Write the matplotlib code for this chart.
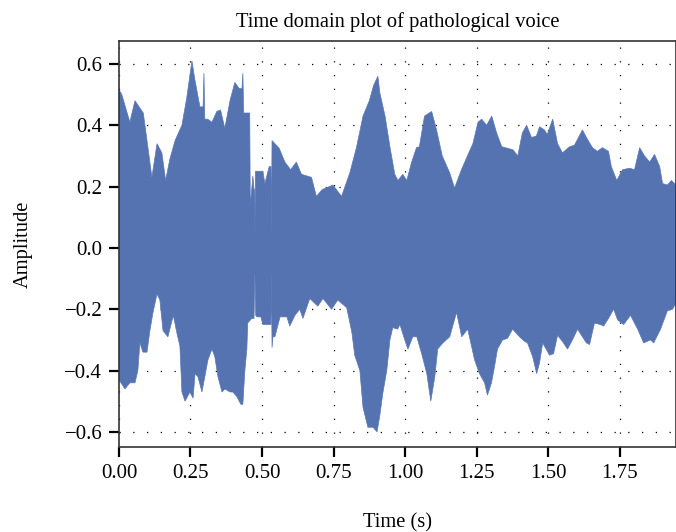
import numpy as np
import matplotlib.pyplot as plt

# upper envelope of the waveform (time in s, amplitude)
t_upper = [0.000, 0.010, 0.038, 0.056, 0.085, 0.098, 0.115, 0.133, 0.150, 0.163,
           0.178, 0.196, 0.220, 0.237, 0.255, 0.265, 0.283, 0.294, 0.297, 0.300,
           0.310, 0.325, 0.342, 0.355, 0.370, 0.388, 0.405, 0.420, 0.430, 0.433,
           0.436, 0.447, 0.457, 0.459, 0.468, 0.472, 0.474, 0.475, 0.477, 0.503,
           0.510, 0.525, 0.531, 0.533, 0.535, 0.545, 0.560, 0.580, 0.600, 0.620,
           0.638, 0.673, 0.690, 0.710, 0.748, 0.778, 0.807, 0.830, 0.853, 0.875,
           0.890, 0.905, 0.912, 0.930, 0.947, 0.964, 0.975, 0.992, 1.006, 1.023,
           1.040, 1.050, 1.068, 1.093, 1.110, 1.130, 1.156, 1.173, 1.197, 1.218,
           1.237, 1.255, 1.268, 1.285, 1.303, 1.320, 1.338, 1.377, 1.394, 1.410,
           1.425, 1.442, 1.459, 1.470, 1.487, 1.497, 1.516, 1.533, 1.550, 1.575,
           1.592, 1.620, 1.637, 1.655, 1.672, 1.690, 1.711, 1.721, 1.740, 1.760,
           1.785, 1.802, 1.820, 1.837, 1.855, 1.872, 1.890, 1.900, 1.917, 1.931,
           1.947]
upper = [0.516, 0.500, 0.410, 0.480, 0.440, 0.350, 0.230, 0.340, 0.310, 0.220,
         0.290, 0.350, 0.400, 0.490, 0.610, 0.550, 0.460, 0.460, 0.570, 0.420,
         0.420, 0.410, 0.445, 0.450, 0.390, 0.480, 0.540, 0.520, 0.520, 0.570,
         0.440, 0.440, 0.440, 0.135, 0.235, 0.190, 0.190, 0.050, 0.250, 0.250,
         0.210, 0.265, 0.265, 0.060, 0.350, 0.340, 0.325, 0.280, 0.255, 0.280,
         0.240, 0.230, 0.168, 0.190, 0.205, 0.168, 0.245, 0.327, 0.430, 0.480,
         0.530, 0.560, 0.505, 0.430, 0.330, 0.240, 0.220, 0.240, 0.220, 0.280,
         0.327, 0.330, 0.430, 0.445, 0.385, 0.300, 0.245, 0.195, 0.255, 0.300,
         0.340, 0.410, 0.420, 0.400, 0.430, 0.375, 0.330, 0.320, 0.300, 0.375,
         0.400, 0.360, 0.365, 0.395, 0.385, 0.370, 0.420, 0.340, 0.310, 0.330,
         0.335, 0.385, 0.355, 0.327, 0.315, 0.327, 0.315, 0.265, 0.220, 0.255,
         0.260, 0.255, 0.327, 0.300, 0.280, 0.305, 0.265, 0.210, 0.205, 0.220,
         0.205]

# lower envelope of the waveform
t_lower = [0.000, 0.021, 0.038, 0.056, 0.066, 0.073, 0.084, 0.098, 0.108, 0.119,
           0.133, 0.143, 0.154, 0.171, 0.190, 0.203, 0.213, 0.220, 0.231, 0.248,
           0.259, 0.266, 0.276, 0.290, 0.300, 0.311, 0.325, 0.335, 0.346, 0.360,
           0.370, 0.388, 0.398, 0.412, 0.426, 0.433, 0.440, 0.447, 0.450, 0.464,
           0.472, 0.475, 0.478, 0.482, 0.489, 0.496, 0.503, 0.520, 0.531, 0.533,
           0.535, 0.538, 0.545, 0.563, 0.587, 0.597, 0.615, 0.632, 0.643, 0.667,
           0.695, 0.713, 0.743, 0.765, 0.796, 0.814, 0.824, 0.842, 0.853, 0.870,
           0.888, 0.902, 0.912, 0.922, 0.936, 0.947, 0.957, 0.974, 0.982, 0.999,
           1.010, 1.027, 1.041, 1.058, 1.076, 1.090, 1.104, 1.114, 1.132, 1.156,
           1.180, 1.198, 1.219, 1.243, 1.260, 1.278, 1.288, 1.302, 1.313, 1.323,
           1.341, 1.358, 1.376, 1.400, 1.418, 1.428, 1.446, 1.460, 1.470, 1.481,
           1.505, 1.519, 1.533, 1.550, 1.568, 1.585, 1.603, 1.620, 1.634, 1.645,
           1.662, 1.683, 1.694, 1.711, 1.729, 1.743, 1.764, 1.788, 1.813, 1.834,
           1.858, 1.869, 1.893, 1.917, 1.935, 1.947]
lower = [-0.430, -0.460, -0.440, -0.440, -0.400, -0.310, -0.340, -0.340, -0.270, -0.210,
         -0.150, -0.170, -0.270, -0.290, -0.220, -0.280, -0.320, -0.470, -0.500, -0.470,
         -0.490, -0.410, -0.420, -0.470, -0.420, -0.365, -0.330, -0.355, -0.420, -0.470,
         -0.460, -0.470, -0.470, -0.485, -0.510, -0.510, -0.400, -0.330, -0.245, -0.230,
         -0.230, -0.080, -0.220, -0.225, -0.225, -0.225, -0.250, -0.250, -0.250, -0.080,
         -0.325, -0.290, -0.290, -0.225, -0.225, -0.255, -0.220, -0.200, -0.230, -0.165,
         -0.190, -0.165, -0.200, -0.170, -0.195, -0.275, -0.350, -0.400, -0.520, -0.585,
         -0.585, -0.600, -0.545, -0.475, -0.400, -0.300, -0.260, -0.265, -0.250, -0.300,
         -0.330, -0.290, -0.290, -0.345, -0.410, -0.500, -0.420, -0.330, -0.310, -0.290,
         -0.210, -0.290, -0.265, -0.365, -0.410, -0.440, -0.480, -0.440, -0.385, -0.330,
         -0.300, -0.295, -0.265, -0.290, -0.305, -0.310, -0.355, -0.410, -0.375, -0.310,
         -0.350, -0.345, -0.285, -0.305, -0.330, -0.300, -0.265, -0.290, -0.310, -0.315,
         -0.245, -0.250, -0.255, -0.230, -0.200, -0.235, -0.250, -0.220, -0.265, -0.310,
         -0.300, -0.310, -0.265, -0.205, -0.200, -0.180]

x_ticks = [0.00, 0.25, 0.50, 0.75, 1.00, 1.25, 1.50, 1.75]
y_ticks = [-0.6, -0.4, -0.2, 0.0, 0.2, 0.4, 0.6]

plt.rcParams['font.family'] = ['Liberation Serif', 'DejaVu Serif']

fig = plt.figure(figsize=(6.76, 5.32), dpi=100)
ax = fig.add_axes([0.176, 0.160, 0.824, 0.763])

# waveform region between the envelopes
poly_t = np.concatenate([t_upper, t_lower[::-1]])
poly_y = np.concatenate([upper, lower[::-1]])
ax.fill(poly_t, poly_y, color='#5572b1', lw=0.5, ec='#5a77b5', zorder=2)

ax.set_xlim(0, 1.947)
ax.set_ylim(-0.649, 0.675)
ax.set_xticks(x_ticks)
ax.set_xticklabels(['%.2f' % v for v in x_ticks])
ax.set_yticks(y_ticks)
ax.set_yticklabels([('%.1f' % v).replace('-', '\u2212') for v in y_ticks])

# dotted grid
ax.grid(True, color='black', linestyle=(0, (1, 10)), linewidth=0.9, zorder=1)
ax.set_axisbelow(True)

ax.tick_params(axis='both', direction='out', length=7, width=1.6, labelsize=15,
               pad=5, color='black')
for side in ['top', 'bottom', 'left', 'right']:
    ax.spines[side].set_linewidth(1.2)
    ax.spines[side].set_color('#333333')

ax.set_title('Time domain plot of pathological voice', fontsize=14.8, pad=10)
ax.set_xlabel('Time (s)', fontsize=14.8, labelpad=22)
ax.set_ylabel('Amplitude', fontsize=14.8, labelpad=23)

plt.savefig('out.png', dpi=100)
